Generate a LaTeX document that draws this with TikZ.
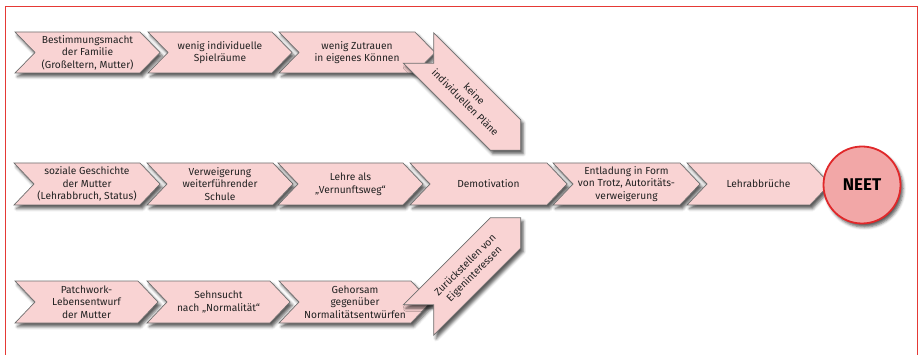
\documentclass[tikz,border=0pt]{standalone}
\usepackage{fontspec}
\setmainfont{Fira Sans}
\usetikzlibrary{shadows.blur}
\definecolor{chevfill}{HTML}{F9D3D3}
\definecolor{chevline}{HTML}{6E6E6E}
\definecolor{neetfill}{HTML}{F2A7A7}
\definecolor{neetline}{HTML}{E0282A}
\definecolor{framecol}{HTML}{E53935}
\definecolor{txt}{HTML}{222222}
\tikzset{
  chev/.style={fill=chevfill, draw=chevline, line width=0.7pt,
    blur shadow={shadow xshift=2.5pt, shadow yshift=-3.5pt, shadow blur radius=3pt, shadow opacity=65}},
  lbl/.style={align=center, text=txt, font=\fontsize{10.2}{12.6}\selectfont, inner sep=0pt},
}
% #1 name, #2 x left, #3 x right corner, #4 y top, #5 y bottom, #6 text
\newcommand\mychev[6]{%
  \path[chev] (#2,#4) -- (#3,#4) -- ({#3+20},{(#4+#5)/2}) -- (#3,#5) -- (#2,#5) -- ({#2+20},{(#4+#5)/2}) -- cycle;
  \node[lbl] (#1) at ({(#2+#3+20)/2},{(#4+#5)/2}) {#6};}
\begin{document}
\begin{tikzpicture}[x=1pt,y=-1pt]
\useasboundingbox (0,0) rectangle (920,355);
\draw[framecol, line width=1.1pt] (5.5,6.5) rectangle (917.5,380);
% row 1
\mychev{a1}{15}{140}{32}{73}{Bestimmungsmacht\\der Familie\\(Großeltern, Mutter)}
\mychev{a2}{148}{272}{32}{73}{wenig individuelle\\Spielräume}
\mychev{a3}{279}{415}{32}{73}{wenig Zutrauen\\in eigenes Können}
% row 2
\mychev{b1}{14}{140}{163}{205}{soziale Geschichte\\der Mutter\\(Lehrabbruch, Status)}
\mychev{b2}{147}{273}{163}{205}{Verweigerung\\weiterführender\\Schule}
\mychev{b3}{278}{403}{163}{205}{Lehre als\\„Vernunftsweg“}
\mychev{b4}{410}{547}{163}{205}{Demotivation}
\mychev{b5}{553}{680}{163}{205}{Entladung in Form\\von Trotz, Autoritäts-\\verweigerung}
\mychev{b6}{687}{810}{163}{205}{Lehrabbrüche}
% row 3
\mychev{c1}{15}{138}{281}{323}{Patchwork-\\Lebensentwurf\\der Mutter}
\mychev{c2}{147}{270}{281}{323}{Sehnsucht\\nach „Normalität“}
\mychev{c3}{279}{411}{281}{323}{Gehorsam\\gegenüber\\Normalitätsentwürfen}
% diagonal ribbons
\path[chev] (433.7,32.8) -- (520.7,119.8) -- (520.7,150.2) -- (490.3,150.2) -- (403.3,63.2) -- (433.7,63.2) -- cycle;
\node[lbl, rotate=-45] (r1) at (470,98) {keine\\individuellen Pläne};
\path[chev] (403.3,304.8) -- (490.3,217.8) -- (520.7,217.8) -- (520.7,248.2) -- (433.7,335.2) -- (433.7,304.8) -- cycle;
\node[lbl, rotate=45] (r2) at (470,270) {Zurückstellen von\\Eigeninteressen};
% NEET
\node[circle, minimum size=77pt, inner sep=0pt, fill=neetfill, draw=neetline, line width=1.8pt,
  blur shadow={shadow xshift=2.5pt, shadow yshift=-3.5pt, shadow blur radius=3pt, shadow opacity=65},
  font=\bfseries\fontsize{17}{20}\selectfont, text=black] (neet) at (862,185) {NEET};
\end{tikzpicture}
\end{document}
